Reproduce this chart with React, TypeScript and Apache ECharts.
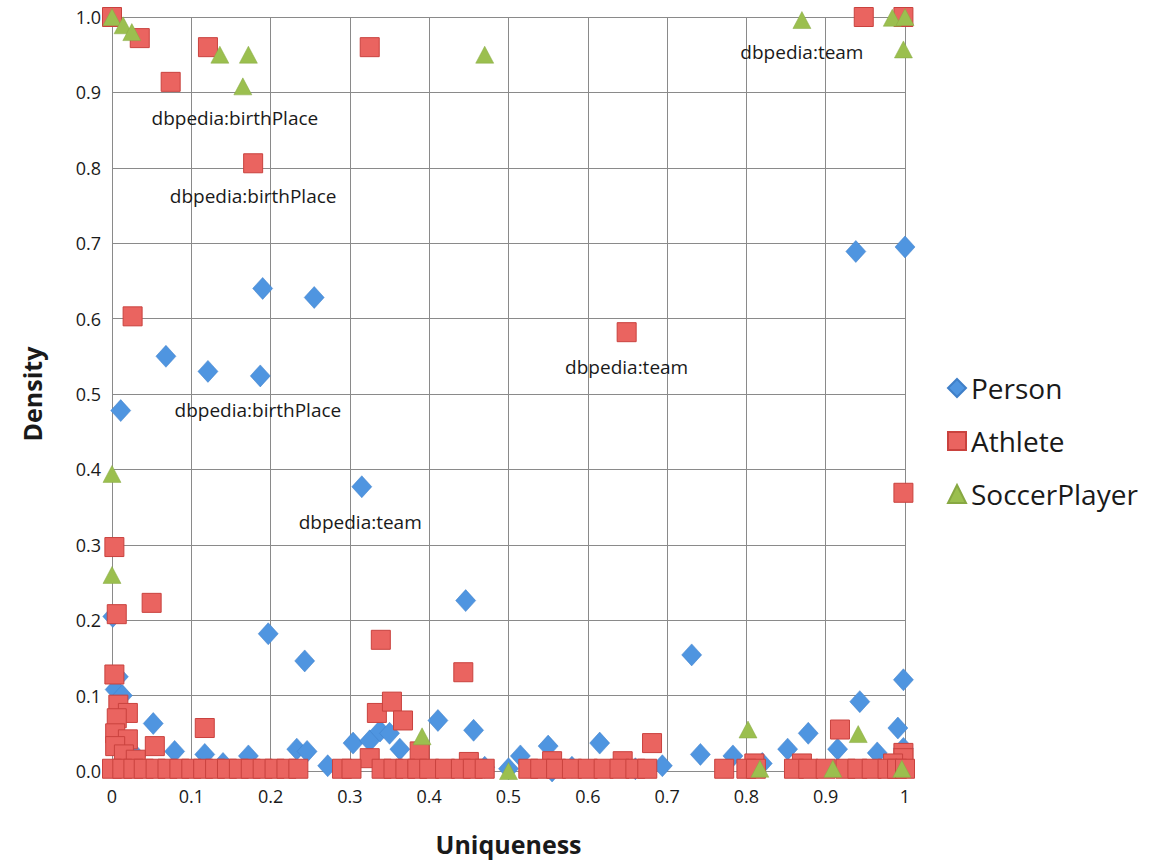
import React, { useEffect, useRef } from "react";
import * as echarts from "echarts";

// [uniqueness, density]
const personData: number[][] = [
  [0.011, 0.478], [0.068, 0.55], [0.121, 0.53], [0.187, 0.524], [0.19, 0.64], [0.255, 0.628],
  [0.315, 0.377], [0.938, 0.689], [1.0, 0.695], [0.197, 0.182], [0.243, 0.146], [0.446, 0.226],
  [0.731, 0.154], [0.998, 0.121], [0.943, 0.092], [0.411, 0.067], [0.456, 0.054], [0.052, 0.063],
  [0.001, 0.205], [0.008, 0.125], [0.004, 0.108], [0.013, 0.1], [0.079, 0.026], [0.117, 0.022],
  [0.172, 0.02], [0.233, 0.029], [0.246, 0.026], [0.272, 0.007], [0.304, 0.037], [0.325, 0.04],
  [0.338, 0.053], [0.35, 0.05], [0.363, 0.029], [0.515, 0.02], [0.55, 0.033], [0.555, 0.0],
  [0.615, 0.037], [0.694, 0.007], [0.742, 0.022], [0.783, 0.02], [0.852, 0.029], [0.878, 0.05],
  [0.915, 0.029], [0.965, 0.024], [0.991, 0.057], [0.998, 0.03], [0.03, 0.02], [0.5, 0.003],
  [0.66, 0.003], [0.58, 0.005], [0.47, 0.005], [0.39, 0.01], [0.14, 0.01], [0.82, 0.01]
];

const athleteData: number[][] = [
  [0.0, 1.0], [0.035, 0.972], [0.074, 0.914], [0.121, 0.96], [0.178, 0.806], [0.325, 0.96],
  [0.649, 0.582], [0.948, 1.0], [0.998, 1.0], [0.026, 0.603], [0.998, 0.369], [0.003, 0.297],
  [0.006, 0.208], [0.05, 0.223], [0.003, 0.128], [0.117, 0.057], [0.339, 0.174], [0.443, 0.131],
  [0.334, 0.077], [0.353, 0.092], [0.367, 0.067], [0.388, 0.026], [0.681, 0.037], [0.918, 0.055],
  [0.998, 0.024], [0.998, 0.017], [0.008, 0.088], [0.02, 0.077], [0.006, 0.07], [0.004, 0.05],
  [0.02, 0.042], [0.054, 0.033], [0.004, 0.033], [0.015, 0.022], [0.03, 0.015], [0.325, 0.017],
  [0.555, 0.013], [0.644, 0.013], [0.87, 0.01], [0.81, 0.01], [0.45, 0.012], [0.985, 0.01],
  // bottom row
  [0.0, 0.003], [0.013, 0.003], [0.027, 0.003], [0.04, 0.003], [0.055, 0.003], [0.07, 0.003],
  [0.085, 0.003], [0.1, 0.003], [0.115, 0.003], [0.13, 0.003], [0.145, 0.003], [0.16, 0.003],
  [0.175, 0.003], [0.19, 0.003], [0.205, 0.003], [0.22, 0.003], [0.235, 0.003], [0.29, 0.003],
  [0.302, 0.003], [0.34, 0.003], [0.355, 0.003], [0.37, 0.003], [0.385, 0.003], [0.4, 0.003],
  [0.42, 0.003], [0.44, 0.003], [0.455, 0.003], [0.47, 0.003], [0.525, 0.003], [0.54, 0.003],
  [0.56, 0.003], [0.58, 0.003], [0.6, 0.003], [0.62, 0.003], [0.64, 0.003], [0.66, 0.003],
  [0.675, 0.003], [0.772, 0.003], [0.8, 0.003], [0.812, 0.003], [0.86, 0.003], [0.878, 0.003],
  [0.9, 0.003], [0.925, 0.003], [0.94, 0.003], [0.958, 0.003], [0.978, 0.003], [0.99, 0.003],
  [1.0, 0.003]
];

const soccerData: number[][] = [
  [0.0, 1.0], [0.014, 0.989], [0.025, 0.98], [0.136, 0.95], [0.172, 0.95], [0.165, 0.908],
  [0.47, 0.95], [0.87, 0.996], [0.984, 0.999], [1.0, 1.0], [0.998, 0.957], [0.0, 0.394],
  [0.0, 0.26], [0.391, 0.046], [0.5, 0.0], [0.802, 0.055], [0.817, 0.003], [0.909, 0.003],
  [0.941, 0.049], [0.996, 0.003]
];

const annotationLabels: string[] = [
  "dbpedia:birthPlace", "dbpedia:birthPlace", "dbpedia:birthPlace",
  "dbpedia:team", "dbpedia:team", "dbpedia:team"
];
const annotationPositions: number[][] = [
  [0.155, 0.866], [0.178, 0.763], [0.184, 0.479], [0.313, 0.33], [0.649, 0.536], [0.87, 0.953]
];

const seriesNames = ["Person", "Athlete", "SoccerPlayer"];
const FONT = "'Open Sans', Lato, sans-serif";

export default function App() {
  const ref = useRef<HTMLDivElement>(null);
  useEffect(() => {
    if (!ref.current) return;
    const chart = echarts.init(ref.current, null, { renderer: "svg" });
    const axisText = { color: "#1a1a1a", fontSize: 18, fontFamily: FONT };
    chart.setOption({
      animation: false,
      backgroundColor: "#ffffff",
      textStyle: { fontFamily: FONT },
      grid: { left: 112, right: 261, top: 17, bottom: 86 },
      legend: {
        data: seriesNames,
        orient: "vertical",
        left: 942,
        top: 369,
        itemGap: 25,
        itemWidth: 18,
        itemHeight: 18,
        textStyle: { color: "#1a1a1a", fontSize: 28, fontFamily: FONT },
      },
      xAxis: {
        type: "value",
        min: 0,
        max: 1,
        interval: 0.1,
        name: "Uniqueness",
        nameLocation: "middle",
        nameGap: 60,
        nameTextStyle: { color: "#1a1a1a", fontSize: 25, fontWeight: "bold", fontFamily: FONT },
        axisLine: { show: false },
        axisTick: { show: false },
        axisLabel: {
          ...axisText,
          margin: 16,
          formatter: (v: number) => (v === 0 ? "0" : v === 1 ? "1" : v.toFixed(1)),
        },
        splitLine: { show: true, lineStyle: { color: "#8a8a8a", width: 1 } },
      },
      yAxis: {
        type: "value",
        min: 0,
        max: 1,
        interval: 0.1,
        name: "Density",
        nameLocation: "middle",
        nameGap: 68,
        nameTextStyle: { color: "#1a1a1a", fontSize: 25, fontWeight: "bold", fontFamily: FONT },
        axisLine: { show: false },
        axisTick: { show: false },
        axisLabel: { ...axisText, margin: 11, formatter: (v: number) => v.toFixed(1) },
        splitLine: { show: true, lineStyle: { color: "#8a8a8a", width: 1 } },
      },
      series: [
        {
          name: "Person",
          type: "scatter",
          symbol: "diamond",
          symbolSize: [20, 22],
          data: personData,
          itemStyle: { color: "#4f95e0", borderColor: "#3f7fc8", borderWidth: 0.5, opacity: 1 },
        },
        {
          name: "Athlete",
          type: "scatter",
          symbol: "rect",
          symbolSize: 19,
          data: athleteData,
          itemStyle: { color: "#ea6460", borderColor: "#c9423e", borderWidth: 1, opacity: 1 },
        },
        {
          name: "SoccerPlayer",
          type: "scatter",
          symbol: "triangle",
          symbolSize: [18, 17],
          data: soccerData,
          itemStyle: { color: "#9bbf4f", borderColor: "#87a842", borderWidth: 0.5, opacity: 1 },
        },
        {
          name: "annotations",
          type: "scatter",
          symbolSize: 0,
          silent: true,
          itemStyle: { opacity: 1 },
          data: annotationPositions.map((p, i) => ({ value: p, name: annotationLabels[i] })),
          label: {
            show: true,
            position: "inside",
            formatter: (p: any) => p.name,
            color: "#1a1a1a",
            fontSize: 19,
            fontFamily: FONT,
          },
          z: 10,
        },
      ],
    });
    return () => chart.dispose();
  }, []);
  return (
    <div
      ref={ref}
      style={{ position: "fixed", left: 0, top: 0, width: 1166, height: 861, background: "#fff" }}
    />
  );
}
